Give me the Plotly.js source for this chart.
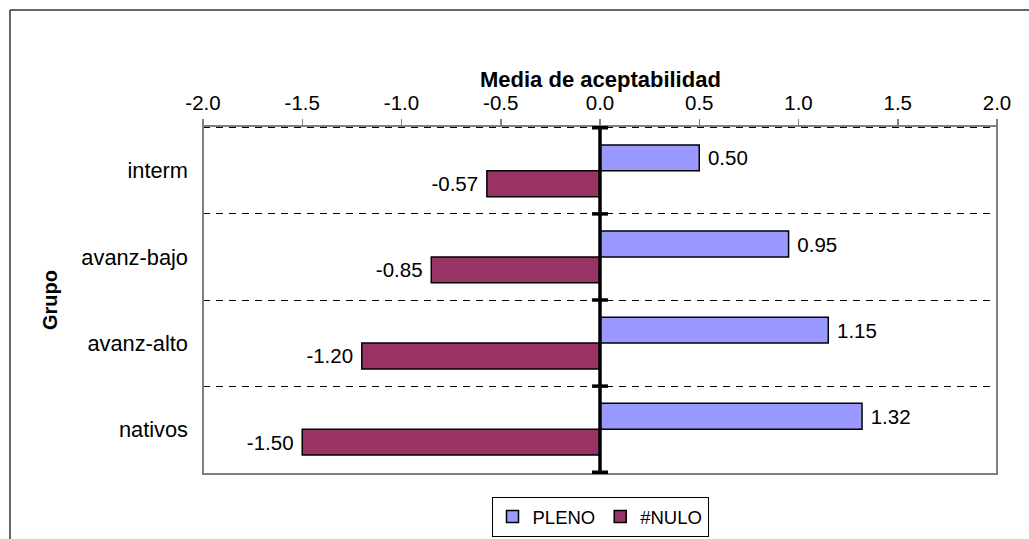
<!DOCTYPE html>
<html>
<head>
<meta charset="utf-8">
<script src="https://cdn.plot.ly/plotly-3.0.1.min.js"></script>
<style>
html,body{margin:0;padding:0;background:#fff;}
#chart{width:1029px;height:539px;}
</style>
</head>
<body>
<div id="chart"></div>
<script>
const categories = ["interm", "avanz-bajo", "avanz-alto", "nativos"];
const plenoValues = [0.50, 0.95, 1.15, 1.32];
const nuloValues = [-0.57, -0.85, -1.20, -1.50];
const seriesNames = ["PLENO", "#NULO"];
const xTickValues = [-2.0, -1.5, -1.0, -0.5, 0.0, 0.5, 1.0, 1.5, 2.0];
const xTitle = "Media de aceptabilidad";
const yTitle = "Grupo";

const FONT = "'Liberation Sans', Arial, sans-serif";
const NBSP = "\u00a0";

const traces = [
  {
    type: "bar", orientation: "h", name: seriesNames[0],
    y: categories, x: plenoValues,
    text: plenoValues.map(v => NBSP + v.toFixed(2)),
    texttemplate: "%{text}", textposition: "outside", cliponaxis: false,
    marker: {color: "#9999FF", line: {color: "#000", width: 1.5}},
    textfont: {family: FONT, size: 20.5, color: "#000"},
    hoverinfo: "skip"
  },
  {
    type: "bar", orientation: "h", name: seriesNames[1],
    y: categories, x: nuloValues,
    text: nuloValues.map(v => v.toFixed(2) + NBSP),
    texttemplate: "%{text}", textposition: "outside", cliponaxis: false,
    marker: {color: "#993366", line: {color: "#000", width: 1.5}},
    textfont: {family: FONT, size: 20.5, color: "#000"},
    hoverinfo: "skip"
  }
];

// boundaries between categories (for the cross ticks on the zero axis)
const bounds = [];
for (let i = 0; i <= categories.length; i++) bounds.push(i - 0.5);

const shapes = [
  // outer chart frame (top and left edges visible)
  {type: "line", xref: "paper", yref: "paper", x0: -0.2431, x1: 1.2, y0: 1.3333, y1: 1.3333,
   line: {color: "#333", width: 1.5}, layer: "below"},
  {type: "line", xref: "paper", yref: "paper", x0: -0.2431, x1: -0.2431, y0: -0.3, y1: 1.3333,
   line: {color: "#333", width: 1.5}, layer: "below"},
  // plot-area frame
  {type: "rect", xref: "paper", yref: "paper", x0: 0, x1: 1, y0: 0, y1: 1,
   line: {color: "#808080", width: 2}, fillcolor: "rgba(0,0,0,0)", layer: "above"},
  // zero (category) axis line
  {type: "line", xref: "x", yref: "y", x0: 0, x1: 0, y0: bounds[0], y1: bounds[bounds.length - 1],
   line: {color: "#000", width: 3.5}, layer: "above"}
];
bounds.forEach(b => shapes.push({
  type: "line", xref: "x", yref: "y", x0: -0.04, x1: 0.04, y0: b, y1: b,
  line: {color: "#000", width: 3.5}, layer: "above"
}));

const layout = {
  width: 1029, height: 539,
  margin: {l: 203, r: 32, t: 126, b: 65, pad: 0, autoexpand: false},
  paper_bgcolor: "#fff", plot_bgcolor: "#fff",
  font: {family: FONT, size: 20, color: "#000"},
  barmode: "group", bargap: 0.4, bargroupgap: 0,
  showlegend: true,
  legend: {
    orientation: "h", x: 0.5, xanchor: "center", y: -0.066, yanchor: "top",
    bordercolor: "#000", borderwidth: 1, bgcolor: "#fff",
    font: {family: FONT, size: 18.5, color: "#000"},
    itemwidth: 30, tracegroupgap: 0
  },
  xaxis: {
    side: "top", range: [-2, 2], tickvals: xTickValues,
    ticktext: xTickValues.map(v => v.toFixed(1)),
    ticks: "outside", ticklen: 6, tickcolor: "#808080", tickwidth: 1.5,
    showline: true, linecolor: "#000", linewidth: 1.5,
    showgrid: false, zeroline: false,
    tickfont: {family: FONT, size: 20.5, color: "#000"},
    fixedrange: true
  },
  yaxis: {
    type: "category", categoryorder: "array", categoryarray: categories,
    autorange: "reversed",
    tickson: "boundaries", ticks: "", showline: false,
    showgrid: true, gridcolor: "#000", gridwidth: 1, griddash: "7px,6px",
    zeroline: false,
    ticklabelstandoff: 14,
    tickfont: {family: FONT, size: 21.8, color: "#000"},
    title: {text: "<b>" + yTitle + "</b>", font: {family: FONT, size: 20, color: "#000"}, standoff: 18},
    fixedrange: true
  },
  annotations: [
    {text: "<b>" + xTitle + "</b>", xref: "paper", yref: "paper", x: 0.5, y: 1.1322,
     xanchor: "center", yanchor: "middle", showarrow: false,
     font: {family: FONT, size: 22, color: "#000"}}
  ],
  shapes: shapes
};

Plotly.newPlot("chart", traces, layout, {displayModeBar: false, staticPlot: true});
</script>
</body>
</html>
